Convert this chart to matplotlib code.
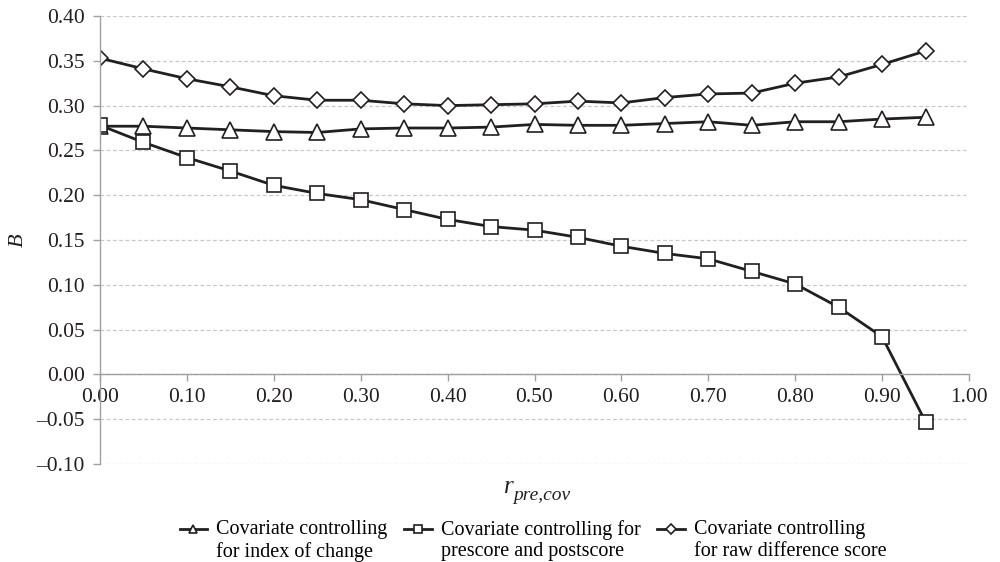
import matplotlib
matplotlib.use("Agg")
import matplotlib.pyplot as plt
import numpy as np

plt.rcParams['font.family'] = ['Liberation Serif', 'DejaVu Serif']

r_pre_cov = [0.00, 0.05, 0.10, 0.15, 0.20, 0.25, 0.30, 0.35, 0.40, 0.45,
             0.50, 0.55, 0.60, 0.65, 0.70, 0.75, 0.80, 0.85, 0.90, 0.95]
index_of_change = [0.277, 0.277, 0.275, 0.273, 0.271, 0.270, 0.274, 0.275, 0.275, 0.276,
                   0.279, 0.278, 0.278, 0.280, 0.282, 0.278, 0.282, 0.282, 0.285, 0.287]
pre_and_post = [0.278, 0.259, 0.242, 0.227, 0.211, 0.202, 0.195, 0.184, 0.173, 0.165,
                0.161, 0.153, 0.143, 0.135, 0.129, 0.115, 0.101, 0.075, 0.042, -0.053]
raw_difference = [0.353, 0.341, 0.330, 0.321, 0.311, 0.306, 0.306, 0.302, 0.300, 0.301,
                  0.302, 0.305, 0.303, 0.309, 0.313, 0.314, 0.325, 0.332, 0.346, 0.361]

labels = ["Covariate controlling\nfor index of change",
          "Covariate controlling for\nprescore and postscore",
          "Covariate controlling\nfor raw difference score"]

ink = '#231f20'
gray = '#a0a0a0'

fig = plt.figure(figsize=(10, 5.62), dpi=100)
ax = fig.add_axes([0.1, 0.1744, 0.869, 0.7971])

style = dict(color=ink, linewidth=2.0, markerfacecolor='white',
             markeredgecolor=ink, markeredgewidth=1.2)
ax.plot(r_pre_cov, index_of_change, marker='^', markersize=11, label=labels[0], **style)
ax.plot(r_pre_cov, pre_and_post, marker='s', markersize=10, label=labels[1], **style)
ax.plot(r_pre_cov, raw_difference, marker='D', markersize=8.5, label=labels[2], **style)

xt = np.arange(0, 1.01, 0.1)
yt = np.arange(-0.10, 0.401, 0.05)
ax.set_xlim(0, 1.0)
ax.set_ylim(-0.10, 0.40)
ax.set_xticks(xt)
ax.set_yticks(yt)
ax.set_xticklabels([f"{v:.2f}" for v in xt])
ax.set_yticklabels([f"{v:.2f}".replace('-', '\u2013') if abs(v) > 1e-9 else "0.00"
                    for v in yt])

ax.spines['top'].set_visible(False)
ax.spines['right'].set_visible(False)
ax.spines['bottom'].set_position(('data', 0))
for side in ('left', 'bottom'):
    ax.spines[side].set_color(gray)
    ax.spines[side].set_linewidth(1.0)
ax.tick_params(axis='both', colors=gray, labelcolor=ink, labelsize=15.5,
               length=5, width=1.0)
ax.tick_params(axis='x', pad=5)
ax.tick_params(axis='y', pad=6)
ax.yaxis.grid(True, linestyle=(0, (3, 2)), color='#c8c8c8', linewidth=0.9)
ax.set_axisbelow(True)

# axis titles
fig.text(0.018, 0.573, "B", fontsize=16, style='italic', rotation=90,
         ha='center', va='center', color=ink)
fig.text(0.504, 0.133, "r", fontsize=18, style='italic', ha='left', va='center', color=ink)
fig.text(0.513, 0.119, "pre,cov", fontsize=14, style='italic', ha='left', va='center', color=ink)

leg = fig.legend(loc='center', bbox_to_anchor=(0.533, 0.038), ncol=3, frameon=False,
                 fontsize=14.5, handlelength=1.35, handletextpad=0.45,
                 columnspacing=0.85, labelspacing=0.2, markerscale=0.55)
# put each handle level with the first line of its label
for h in leg.legend_handles:
    h.set_ydata(np.asarray(h.get_ydata()) + 8.5)

fig.savefig("out.png", dpi=100)
